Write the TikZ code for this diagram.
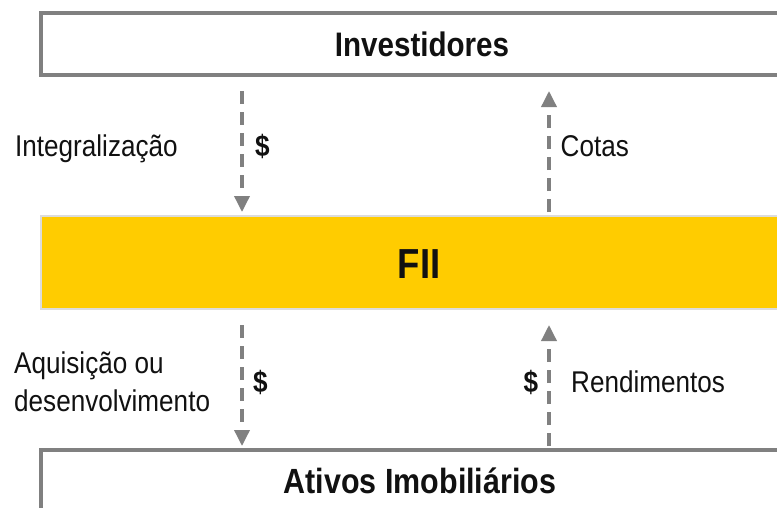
\documentclass[tikz,border=0pt]{standalone}
\usepackage{fontspec}
\setmainfont{Liberation Sans}[FakeStretch=0.87]
\usetikzlibrary{arrows.meta}
\definecolor{boxgray}{HTML}{808080}
\definecolor{fiiyellow}{HTML}{FFCC00}
\definecolor{fiiborder}{HTML}{DCDCDC}
\definecolor{txt}{HTML}{111111}
\tikzset{
  framebox/.style={draw=boxgray, line width=3.5pt, fill=white, rectangle, inner sep=0pt, outer sep=0pt},
  fiibox/.style={draw=fiiborder, line width=2pt, fill=fiiyellow, rectangle, inner sep=0pt, outer sep=0pt},
  boldlbl/.style={font=\fontsize{34}{40}\selectfont\bfseries, text=txt, inner sep=0pt, anchor=base},
  lbl/.style={font=\fontsize{30}{38.4}\selectfont, text=txt, inner sep=0pt, anchor=base west},
  dollar/.style={font=\fontsize{30}{36}\selectfont\bfseries, text=txt, inner sep=0pt, anchor=base},
  flow/.style={draw=boxgray, line width=3.5pt, dash pattern=on 13pt off 8pt,
    -{Triangle[width=15pt,length=16pt]}},
  down/.style={flow, shorten <=16pt, shorten >=4pt},
  up/.style={flow, shorten <=4pt, shorten >=16pt},
}
\begin{document}
\begin{tikzpicture}[x=1pt,y=-1pt]
\useasboundingbox (0,0) rectangle (777,507);
\clip (0,0) rectangle (777,507);
\fill[white] (0,0) rectangle (777,507);
% boxes
\node[framebox, minimum width=760pt, minimum height=62pt] (inv) at (421,44) {};
\node[fiibox, minimum width=760pt, minimum height=93pt] (fii) at (421,262.5) {};
\node[framebox, minimum width=760pt, minimum height=100pt] (ativ) at (421,500) {};
% box texts
\node[boldlbl] (invT) at (422,56.7) {Investidores};
\node[boldlbl, font=\fontsize{42}{48}\selectfont\bfseries] (fiiT) at (419,278) {FII};
\node[boldlbl, font=\fontsize{35}{40}\selectfont\bfseries] (ativT) at (420,493.3) {Ativos Imobiliários};
% connector anchor points
\coordinate (a1s) at ([xshift=201pt]inv.south west);
\coordinate (a1e) at ([xshift=201pt]fii.north west);
\coordinate (a2s) at ([xshift=508pt]fii.north west);
\coordinate (a2e) at ([xshift=508pt]inv.south west);
\coordinate (a3s) at ([xshift=201pt]fii.south west);
\coordinate (a3e) at ([xshift=201pt]ativ.north west);
\coordinate (a4s) at ([xshift=508pt]ativ.north west);
\coordinate (a4e) at ([xshift=508pt]fii.south west);
% connectors
\draw[down] (a1s) -- (a1e);
\draw[up] (a2s) -- (a2e);
\draw[down] (a3s) -- (a3e);
\draw[up] (a4s) -- (a4e);
% labels
\node[lbl] (integ) at (15,156) {Integralização};
\node[dollar] (d1) at (262.5,156) {\$};
\node[lbl] (cotas) at (560.5,156.7) {Cotas};
\node[lbl, align=left] (aquis) at (14,411.7) {Aquisição ou\\desenvolvimento};
\node[dollar] (d2) at (260.5,392) {\$};
\node[dollar] (d3) at (531,392) {\$};
\node[lbl] (rend) at (571,392.3) {Rendimentos};
\end{tikzpicture}
\end{document}
